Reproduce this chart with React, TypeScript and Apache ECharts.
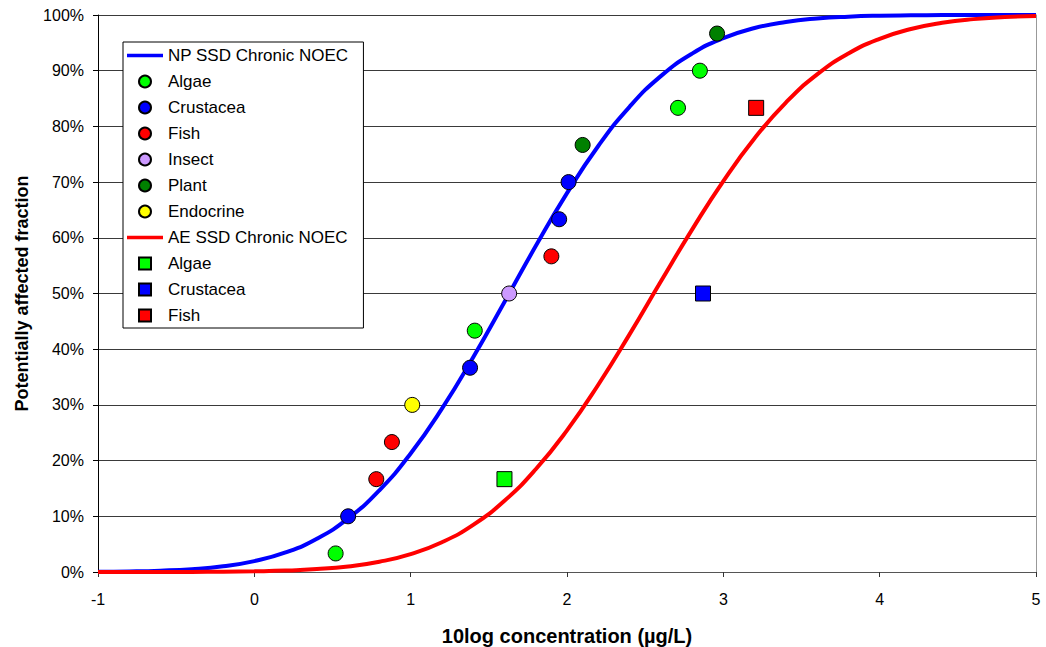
import React, { useEffect, useRef } from "react";
import * as echarts from "echarts";

// Fitted SSD curves (x = 10log concentration, y = fraction)
const curveX = [-1, -0.8, -0.6, -0.4, -0.2, 0, 0.2, 0.4, 0.6, 0.8, 1, 1.2, 1.4, 1.6, 1.8, 2, 2.2, 2.4, 2.6, 2.8, 3, 3.2, 3.4, 3.6, 3.8, 4, 4.2, 4.4, 4.6, 4.8, 5];
const npCurveY = [0.0004, 0.001, 0.0024, 0.0051, 0.0103, 0.0196, 0.0351, 0.0597, 0.0962, 0.1467, 0.2127, 0.2932, 0.3855, 0.4848, 0.5851, 0.6801, 0.7648, 0.8352, 0.8903, 0.9307, 0.9585, 0.9766, 0.9875, 0.9937, 0.997, 0.9987, 0.9994, 0.9998, 0.9999, 1.0, 1.0];
const aeCurveY = [0.00001, 0.00003, 0.0001, 0.0002, 0.0005, 0.0012, 0.0025, 0.0052, 0.01, 0.0184, 0.0321, 0.0534, 0.0846, 0.1278, 0.1844, 0.2543, 0.3362, 0.4266, 0.5215, 0.6147, 0.7019, 0.7787, 0.8428, 0.8933, 0.9308, 0.9573, 0.9749, 0.986, 0.9926, 0.9962, 0.9982];

// NP species points
const npAlgaeX = [0.52, 1.41, 2.71, 2.85];
const npAlgaeY = [0.0333, 0.4333, 0.8333, 0.9];
const npCrustaceaX = [0.6, 1.38, 1.95, 2.01];
const npCrustaceaY = [0.1, 0.3667, 0.6333, 0.7];
const npFishX = [0.78, 0.88, 1.9];
const npFishY = [0.1667, 0.2333, 0.5667];
const npInsectX = [1.63];
const npInsectY = [0.5];
const npPlantX = [2.1, 2.96];
const npPlantY = [0.7667, 0.9667];
const npEndocrineX = [1.01];
const npEndocrineY = [0.3];

// AE species points
const aeAlgaeX = [1.6];
const aeAlgaeY = [0.1667];
const aeCrustaceaX = [2.87];
const aeCrustaceaY = [0.5];
const aeFishX = [3.21];
const aeFishY = [0.8333];

const xTicks = { min: -1, max: 5, interval: 1 };
const yTicks = { min: 0, max: 1, interval: 0.1 };

const zip = (xs: number[], ys: number[]) => xs.map((x, i) => [x, ys[i]]);

const FONT = "Liberation Sans, Arial, sans-serif";
const LINE_ICON = "path://M0,0h36v3.5h-36z";
const SQUARE_ICON = "path://M0,0h12v12h-12z";

export default function App() {
  const ref = useRef<HTMLDivElement>(null);

  useEffect(() => {
    document.body.style.margin = "0";
    if (!ref.current) return;
    const chart = echarts.init(ref.current, undefined, { renderer: "svg" });

    const scatter = (name: string, xs: number[], ys: number[], color: string, symbol: string) => ({
      name,
      type: "scatter",
      data: zip(xs, ys),
      symbol,
      symbolSize: 15,
      z: 4,
      itemStyle: { color, borderColor: "#000", borderWidth: 1, opacity: 1 },
      emphasis: { disabled: true },
    });

    const curve = (name: string, ys: number[], color: string) => ({
      name,
      type: "line",
      data: zip(curveX, ys),
      showSymbol: false,
      symbol: "none",
      smooth: true,
      clip: false,
      z: 3,
      lineStyle: { color, width: 4 },
      itemStyle: { color },
      emphasis: { disabled: true },
    });

    chart.setOption({
      animation: false,
      backgroundColor: "#fff",
      textStyle: { fontFamily: FONT },
      grid: {
        left: 98,
        right: 10,
        top: 15,
        bottom: 75,
        containLabel: false,
        outerBoundsMode: "none",
      },
      legend: {
        orient: "vertical",
        left: 123,
        top: 42,
        padding: [5, 15, 4, 4],
        itemWidth: 36,
        itemHeight: 12,
        itemGap: 9,
        itemTextGap: 3,
        backgroundColor: "#fff",
        borderColor: "#000",
        borderWidth: 1,
        borderRadius: 0,
        selectedMode: false,
        z: 10,
        textStyle: { fontFamily: FONT, fontSize: 17, color: "#000" },
        formatter: (name: string) =>
          name.startsWith("AE ") && name.indexOf("SSD") < 0 ? name.slice(3) : name,
        data: [
          { name: "NP SSD Chronic NOEC", icon: LINE_ICON, itemStyle: { borderWidth: 0 } },
          "Algae",
          "Crustacea",
          "Fish",
          "Insect",
          "Plant",
          "Endocrine",
          { name: "AE SSD Chronic NOEC", icon: LINE_ICON, itemStyle: { borderWidth: 0 } },
          { name: "AE Algae", icon: SQUARE_ICON },
          { name: "AE Crustacea", icon: SQUARE_ICON },
          { name: "AE Fish", icon: SQUARE_ICON },
        ],
      },
      xAxis: {
        type: "value",
        min: xTicks.min,
        max: xTicks.max,
        interval: xTicks.interval,
        name: "10log concentration (µg/L)",
        nameLocation: "middle",
        nameGap: 54,
        nameTextStyle: { fontFamily: FONT, fontSize: 20, fontWeight: "bold", color: "#000" },
        axisLine: { show: true, onZero: false, lineStyle: { color: "#555", width: 1 } },
        axisTick: { show: true, length: 5, inside: false, lineStyle: { color: "#333" } },
        axisLabel: { fontFamily: FONT, fontSize: 16, color: "#000", margin: 19 },
        splitLine: { show: false },
      },
      yAxis: [
        {
          type: "value",
          min: yTicks.min,
          max: yTicks.max,
          interval: yTicks.interval,
          name: "Potentially affected fraction",
          nameLocation: "middle",
          nameGap: 67,
          nameRotate: 90,
          nameTextStyle: { fontFamily: FONT, fontSize: 18, fontWeight: "bold", color: "#000" },
          axisLine: { show: true, onZero: false, lineStyle: { color: "#000", width: 1 } },
          axisTick: { show: true, length: 5, lineStyle: { color: "#000" } },
          axisLabel: {
            fontFamily: FONT,
            fontSize: 16,
            color: "#000",
            margin: 14,
            formatter: (v: number) => Math.round(v * 100) + "%",
          },
          splitLine: { show: true, lineStyle: { color: "#3a3a3a", width: 1 } },
        },
        {
          type: "value",
          position: "right",
          min: yTicks.min,
          max: yTicks.max,
          interval: yTicks.interval,
          axisLine: { show: true, onZero: false, lineStyle: { color: "#999", width: 1 } },
          axisTick: { show: false },
          axisLabel: { show: false },
          splitLine: { show: false },
        },
      ],
      series: [
        curve("NP SSD Chronic NOEC", npCurveY, "#0000FF"),
        scatter("Algae", npAlgaeX, npAlgaeY, "#00FF00", "circle"),
        scatter("Crustacea", npCrustaceaX, npCrustaceaY, "#0000FF", "circle"),
        scatter("Fish", npFishX, npFishY, "#FF0000", "circle"),
        scatter("Insect", npInsectX, npInsectY, "#CC99FF", "circle"),
        scatter("Plant", npPlantX, npPlantY, "#008000", "circle"),
        scatter("Endocrine", npEndocrineX, npEndocrineY, "#FFFF00", "circle"),
        curve("AE SSD Chronic NOEC", aeCurveY, "#FF0000"),
        scatter("AE Algae", aeAlgaeX, aeAlgaeY, "#00FF00", "rect"),
        scatter("AE Crustacea", aeCrustaceaX, aeCrustaceaY, "#0000FF", "rect"),
        scatter("AE Fish", aeFishX, aeFishY, "#FF0000", "rect"),
      ],
    });

    return () => chart.dispose();
  }, []);

  return <div ref={ref} style={{ width: 1046, height: 647 }} />;
}
